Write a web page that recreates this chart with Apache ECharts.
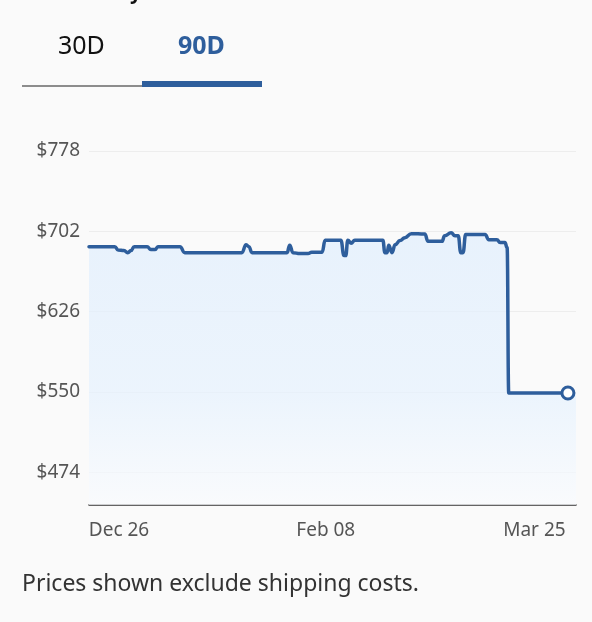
<!DOCTYPE html>
<html>
<head>
<meta charset="utf-8">
<script src="https://cdn.jsdelivr.net/npm/echarts@6/dist/echarts.min.js"></script>
<style>
html, body { margin: 0; padding: 0; background: #fafafa; }
#chart { width: 592px; height: 622px; }
</style>
</head>
<body>
<div id="chart"></div>
<script>
// days after Dec 26 and the price on that day
var days = [0, 4.8, 5.4, 6.5, 7.2, 7.8, 8.4, 10.8, 11.5, 12.3, 12.8, 16.9, 17.8,
    28.4, 29.2, 29.7, 30.3, 36.8, 37.3, 37.9, 39.2, 40.7, 41.4, 43.3, 43.9,
    46.8, 47.4, 47.7, 48.1, 48.7, 49.4, 54.6, 55.0, 55.4, 55.7, 56.3, 56.9,
    57.8, 58.7, 59.9, 62.4, 63.0, 65.6, 66.1, 67.3, 68.0, 68.6, 69.1, 69.5,
    70.0, 73.6, 74.3, 75.8, 76.4, 77.3, 77.7, 78.0, 89];
var prices = [687.5, 687.5, 684.3, 683.8, 681.8, 683.8, 687.5, 687.5, 684.7, 684.7, 687.5, 687.5, 681.8,
    681.8, 689.4, 687.5, 681.8, 681.8, 688.9, 681.8, 680.9, 680.9, 682.3, 682.3, 693.5,
    693.5, 679, 679, 693.5, 690.8, 693.5, 693.5, 681.8, 681.8, 688.9, 681.8, 689.4,
    693.2, 696, 699.8, 699.4, 692.5, 692.5, 697.9, 700.6, 697.9, 697.9, 681.8, 681.8,
    698.9, 698.9, 694.1, 694.1, 691.3, 691.3, 686.6, 549, 549];

var tickDays = [0, 44, 89];
var tickLabels = ['Dec 26', 'Feb 08', 'Mar 25'];
var priceTicks = [474, 550, 626, 702, 778];
var lastDay = 90.5;   // the shaded area runs on to the edge of the plot

var blue = '#2e5e9c';
var font = 'Noto Sans';

var linePoints = days.map(function (d, i) { return [d, prices[i]]; });
var fillPoints = linePoints.concat([[lastDay, prices[prices.length - 1]]]);
var lastPoint = linePoints[linePoints.length - 1];

var myChart = echarts.init(document.getElementById('chart'));
myChart.setOption({
    backgroundColor: '#fafafa',
    animation: false,
    textStyle: { fontFamily: font },
    grid: { left: 89, right: 16, top: 151, bottom: 117 },
    graphic: [
        { type: 'text', left: 16, top: -17, style: { text: 'Price history', fontFamily: font, fontSize: 20, fontWeight: 'bold', fill: '#111' } },
        { type: 'text', left: 58, top: 34, style: { text: '30D', fontFamily: font, fontSize: 25, fill: '#111' } },
        { type: 'text', left: 178, top: 34, style: { text: '90D', fontFamily: font, fontSize: 25, fontWeight: 'bold', fill: blue } },
        { type: 'rect', left: 22, top: 85, shape: { width: 120, height: 2 }, style: { fill: '#8c8c8c' } },
        { type: 'rect', left: 142, top: 81, shape: { width: 120, height: 6 }, style: { fill: blue } },
        { type: 'text', left: 22, top: 573, style: { text: 'Prices shown exclude shipping costs.', fontFamily: font, fontSize: 23, fill: '#333' } }
    ],
    xAxis: {
        type: 'value',
        min: 0,
        max: lastDay,
        axisLine: { lineStyle: { color: '#333', width: 1.5 } },
        axisTick: { show: false, customValues: tickDays },
        splitLine: { show: false },
        axisLabel: {
            customValues: tickDays,
            margin: 16,
            formatter: function (v) {
                var i = tickDays.indexOf(v);
                var key = i === 0 ? 'l' : (i === tickDays.length - 1 ? 'r' : 'm');
                return '{' + key + '|' + tickLabels[i] + '}';
            },
            rich: {
                l: { fontFamily: font, fontSize: 19, color: '#555', padding: [0, 0, 0, 60] },
                m: { fontFamily: font, fontSize: 19, color: '#555' },
                r: { fontFamily: font, fontSize: 19, color: '#555', padding: [0, 67, 0, 0] }
            }
        }
    },
    yAxis: {
        type: 'value',
        min: 443,
        max: 778,
        axisLine: { show: false },
        axisTick: { show: false, customValues: priceTicks },
        splitLine: { lineStyle: { color: '#ededed', width: 1 } },
        axisLabel: {
            customValues: priceTicks,
            margin: 9,
            fontFamily: font,
            fontSize: 19,
            color: '#555',
            formatter: function (v) { return '$' + v; }
        }
    },
    series: [
        {
            name: 'fill',
            type: 'line',
            data: fillPoints,
            smooth: 0.5,
            smoothMonotone: 'x',
            symbol: 'none',
            lineStyle: { width: 0, opacity: 0 },
            areaStyle: {
                color: new echarts.graphic.LinearGradient(0, 0, 0, 1, [
                    { offset: 0, color: '#e0eefd' },
                    { offset: 0.6, color: '#e6f2fe' },
                    { offset: 1, color: '#f9fbfe' }
                ])
            },
            silent: true,
            z: 1
        },
        {
            name: 'price',
            type: 'line',
            data: linePoints,
            smooth: 0.5,
            smoothMonotone: 'x',
            symbol: 'none',
            lineStyle: { color: blue, width: 3.5, join: 'round', cap: 'round' },
            z: 3
        },
        {
            name: 'latest',
            type: 'scatter',
            data: [lastPoint],
            symbol: 'circle',
            symbolSize: 12,
            itemStyle: { color: '#fff', borderColor: blue, borderWidth: 3, opacity: 1 },
            z: 4
        }
    ]
});
</script>
</body>
</html>
